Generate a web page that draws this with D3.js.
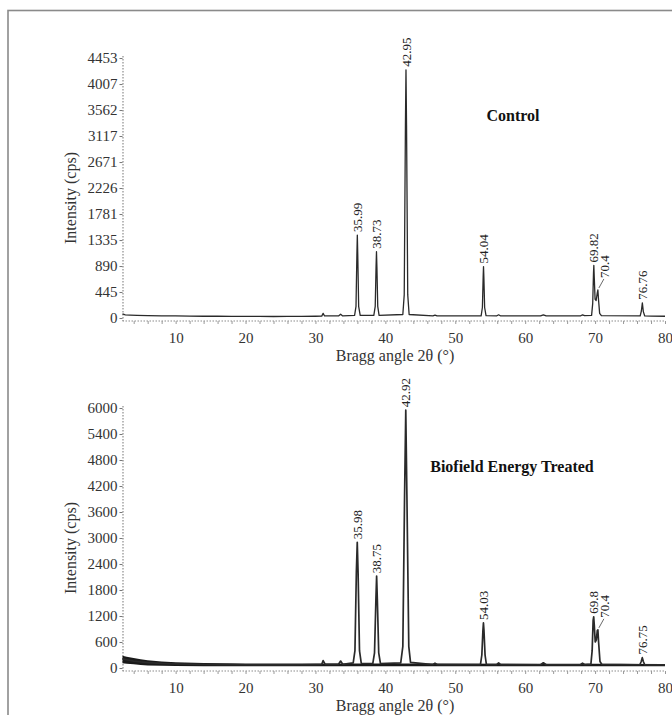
<!DOCTYPE html>
<html><head><meta charset="utf-8">
<script src="https://cdn.jsdelivr.net/npm/d3@7"></script>
<style>
html,body{margin:0;padding:0;background:#fff;}
svg text{font-family:"Liberation Serif","Times New Roman",serif;}
</style></head>
<body>
<svg id="c" width="672" height="715"></svg>
<script>
// ---------- data ----------
const xTicks = [10, 20, 30, 40, 50, 60, 70, 80];
const controlTicks = [0, 445, 890, 1335, 1781, 2226, 2671, 3117, 3562, 4007, 4453];
const treatedTicks = [0, 600, 1200, 1800, 2400, 3000, 3600, 4200, 4800, 5400, 6000];

const controlAngle = [2.4,2.8,3.5,4.5,6,8,10,12,14,16,18,20,22,24,26,28,30,30.9,31.1,31.3,33.3,33.6,33.9,35.6,35.8,35.93,35.99,36.05,36.18,36.4,38.35,38.55,38.67,38.73,38.79,38.91,39.1,42.5,42.7,42.87,42.95,43.03,43.2,43.4,46.8,47.1,47.4,53.7,53.88,53.99,54.04,54.09,54.2,54.4,55.9,56.2,56.5,62.2,62.6,63,67.9,68.2,68.5,69.5,69.66,69.77,69.82,69.88,70.0,70.15,70.3,70.4,70.5,70.65,70.9,76.45,76.62,76.76,76.9,77.1,78,80];
const controlCps   = [70,55,50,45,40,38,35,32,30,30,28,27,27,26,27,28,30,32,80,35,35,65,35,45,200,1100,1420,1100,200,45,45,200,880,1135,880,200,45,60,400,3300,4250,3300,400,60,35,50,35,35,180,700,880,700,180,40,35,55,35,35,55,35,35,55,40,45,250,760,900,700,320,300,420,480,300,80,40,35,120,260,110,35,32,30];

const treatedAngle = [2.4,3,4,5,6,8,10,12,14,16,18,20,22,24,26,28,30,30.9,31.1,31.4,33.3,33.6,33.9,35.4,35.65,35.85,35.98,36.1,36.3,36.55,38.2,38.45,38.65,38.75,38.85,39.05,39.3,42.2,42.5,42.75,42.92,43.08,43.35,43.6,46.8,47.1,47.4,53.6,53.8,53.95,54.03,54.11,54.26,54.45,55.9,56.2,56.5,62.2,62.6,63,67.9,68.2,68.5,69.4,69.58,69.72,69.8,69.88,70.02,70.18,70.32,70.4,70.5,70.7,70.95,76.4,76.6,76.75,76.9,77.1,78,80];
const treatedCps   = [210,190,160,140,125,105,95,90,85,80,78,75,72,70,72,75,80,85,170,85,85,160,85,120,400,2200,2900,2200,400,110,100,350,1600,2120,1600,350,100,120,500,4000,5950,4000,500,130,80,110,80,80,300,850,1040,850,300,85,80,120,80,75,120,75,75,110,80,90,400,1100,1180,1000,600,650,870,880,600,150,85,75,150,240,150,75,70,70];

// noisy baseline envelope of the treated pattern
const noiseAngle = [2.4,3,4,5,6,8,10,14,20,30,35,45,60,70,80];
const noiseHigh  = [280,260,230,200,180,150,130,115,105,105,105,105,100,100,95];
const noiseLow   = [110,100,85,70,60,50,45,40,38,38,38,38,38,38,38];

const controlPeaks = [35.99, 38.73, 42.95, 54.04, 69.82, 70.4, 76.76];
const controlPeakCps = [1420, 1135, 4250, 880, 900, 480, 260];
const controlPeakLabels = ["35.99","38.73","42.95","54.04","69.82","70.4","76.76"];

const treatedPeaks = [35.98, 38.75, 42.92, 54.03, 69.8, 70.4, 76.75];
const treatedPeakCps = [2900, 2120, 5950, 1040, 1180, 880, 240];
const treatedPeakLabels = ["35.98","38.75","42.92","54.03","69.8","70.4","76.75"];

const titles = ["Control", "Biofield Energy Treated"];

// ---------- drawing ----------
const svg = d3.select("#c");
svg.append("rect").attr("x",8).attr("y",10.5).attr("width",700).attr("height",720)
  .attr("fill","none").attr("stroke","#8a8a8a").attr("stroke-width",1.6);

const x = d3.scaleLinear().domain([2.4, 80]).range([122.5, 665]);

function panel(cfg){
  const y = d3.scaleLinear().domain([0, cfg.ticks[cfg.ticks.length-1]]).range([cfg.y0, cfg.y0-260]);
  const g = svg.append("g");

  // y axis (dotted)
  g.append("line").attr("x1",123).attr("x2",123).attr("y1",y.range()[1]-2).attr("y2",cfg.y0+3)
    .attr("stroke","#8c8c8c").attr("stroke-width",1.2).attr("stroke-dasharray","1.5,1.5");
  const ya = d3.axisLeft(y).tickValues(cfg.ticks).tickSize(3).tickPadding(2).tickFormat(d=>d);
  const yg = g.append("g").attr("transform","translate(122.5,0)").call(ya);
  yg.select(".domain").remove();
  yg.selectAll("line").attr("stroke","#777");
  yg.selectAll("text").attr("font-size",15).attr("fill","#333");

  // x axis (dotted) with minor ticks
  const ax = cfg.y0 + 3;
  g.append("line").attr("x1",122.5).attr("x2",665).attr("y1",ax).attr("y2",ax)
    .attr("stroke","#8c8c8c").attr("stroke-width",1.2).attr("stroke-dasharray","1.5,1.5");
  const xa = d3.axisBottom(x).tickValues(d3.range(4, 81, 2)).tickSize(3).tickFormat("");
  const xg = g.append("g").attr("transform",`translate(0,${ax})`).call(xa);
  xg.select(".domain").remove();
  xg.selectAll("line").attr("stroke","#999");
  const xl = d3.axisBottom(x).tickValues(xTicks).tickSize(0).tickPadding(11).tickFormat(d=>d);
  const xlg = g.append("g").attr("transform",`translate(0,${ax})`).call(xl);
  xlg.select(".domain").remove();
  xlg.selectAll("text").attr("font-size",15).attr("fill","#333");

  // axis titles
  g.append("text").attr("transform",`translate(76,${cfg.y0-120}) rotate(-90)`)
    .attr("text-anchor","middle").attr("font-size",16).attr("fill","#333").text("Intensity (cps)");
  g.append("text").attr("x",395).attr("y",cfg.y0+43).attr("text-anchor","middle")
    .attr("font-size",16).attr("fill","#333").text("Bragg angle 2θ (°)");

  // noise band
  if (cfg.noise){
    const area = d3.area().x(d=>x(d[0])).y0(d=>y(d[2])).y1(d=>y(d[1]));
    g.append("path").datum(noiseAngle.map((a,i)=>[a,noiseHigh[i],noiseLow[i]]))
      .attr("d",area).attr("fill","#1a1a1a");
  }
  // pattern
  const line = d3.line().x(d=>x(d[0])).y(d=>y(d[1]));
  g.append("path").datum(cfg.angle.map((a,i)=>[a,cfg.cps[i]]))
    .attr("d",line).attr("fill","none").attr("stroke","#2a2a2a")
    .attr("stroke-width",cfg.sw).attr("stroke-linejoin","round");

  // peak labels
  cfg.peaks.forEach((p,i)=>{
    let px = x(p), py = y(cfg.peakCps[i]) - 3;
    if (cfg.labels[i] === "70.4"){
      const lx = px + 7, ly = py - 9;
      g.append("line").attr("x1",px+1).attr("y1",py+1).attr("x2",lx-1).attr("y2",ly+1)
        .attr("stroke","#444").attr("stroke-width",0.8);
      px = lx; py = ly;
    }
    g.append("text").attr("transform",`translate(${px},${py}) rotate(-90)`)
      .attr("dy","0.35em").attr("font-size",13).attr("fill","#222").text(cfg.labels[i]);
  });

  g.append("text").attr("x",cfg.tx).attr("y",cfg.ty).attr("text-anchor","middle")
    .attr("font-size",16).attr("font-weight","bold").attr("fill","#111").text(cfg.title);
}

panel({y0:318, ticks:controlTicks, angle:controlAngle, cps:controlCps, peaks:controlPeaks,
  peakCps:controlPeakCps, labels:controlPeakLabels, title:titles[0], tx:513, ty:121, sw:1.3, noise:false});
panel({y0:668, ticks:treatedTicks, angle:treatedAngle, cps:treatedCps, peaks:treatedPeaks,
  peakCps:treatedPeakCps, labels:treatedPeakLabels, title:titles[1], tx:512, ty:472, sw:1.7, noise:true});
</script>
</body></html>
